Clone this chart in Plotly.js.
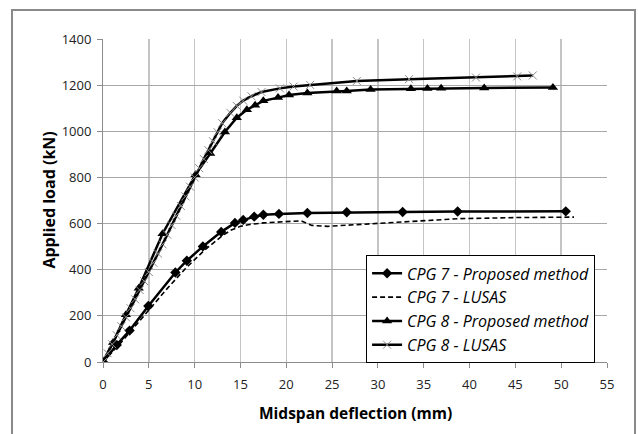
<!DOCTYPE html>
<html>
<head>
<meta charset="utf-8">
<script src="https://cdn.plot.ly/plotly-3.0.1.min.js"></script>
<style>
  html, body { margin: 0; padding: 0; background: #fff; }
  #wrap { position: relative; width: 638px; height: 434px; }
  #chart { width: 638px; height: 434px; }
  #frame { position: absolute; left: 11px; top: 9px; width: 621px; height: 430px;
           border-left: 2px solid #8a8a8a; border-top: 2px solid #8a8a8a; border-right: 2px solid #8a8a8a;
           pointer-events: none; }
</style>
</head>
<body>
<div id="wrap"><div id="chart"></div><div id="frame"></div></div>
<script>
// CPG 7 - Proposed method
const cpg7PropX = [0, 1.5, 2.9, 4.95, 7.9, 9.15, 10.9, 12.9, 14.4, 15.3, 16.5, 17.5, 19.2, 22.3, 26.6, 32.7, 38.7, 50.5];
const cpg7PropY = [0, 74, 136, 243, 388, 439, 501, 564, 603, 616, 630, 638, 642, 646, 649, 650, 652, 653];
// CPG 7 - LUSAS
const cpg7LusX = [0, 1, 2, 3, 5, 7, 9, 11, 13, 14, 15, 16, 17.5, 19, 20.5, 21.6, 22.2, 22.8, 24.5, 28, 32.5, 38.7, 45, 51.4];
const cpg7LusY = [0, 42, 86, 132, 225, 318, 405, 482, 547, 572, 588, 596, 603, 607, 610, 612, 602, 592, 588, 596, 607, 621, 626, 628];
// CPG 8 - Proposed method
const cpg8PropX = [0, 1.1, 2.5, 3.9, 6.5, 10.1, 11.7, 13.3, 14.6, 15.7, 16.6, 17.5, 19.1, 20.3, 22.3, 25.5, 26.6, 29.2, 33.6, 35.4, 36.9, 41.6, 49.1];
const cpg8PropY = [0, 85, 205, 320, 556, 812, 904, 997, 1059, 1093, 1113, 1132, 1146, 1157, 1166, 1175, 1175, 1181, 1184, 1185, 1186, 1188, 1190];
// CPG 8 - LUSAS
const cpg8LusX = [0, 0.5, 1, 1.5, 2, 2.5, 3, 3.5, 4, 4.5, 5, 5.5, 6, 6.5, 7, 7.5, 8, 8.5, 9, 9.5, 10, 10.5, 11, 11.5, 12, 12.5, 13, 13.9, 14.6, 15.3, 16.2, 17.3, 19.3, 20.8, 22.6, 27.7, 33.4, 40.7, 45.2, 46.9];
const cpg8LusY = [0, 38, 77, 116, 155, 194, 233, 272, 312, 350, 390, 430, 470, 510, 552, 593, 634, 676, 718, 760, 800, 840, 880, 918, 957, 996, 1035, 1080, 1110, 1133, 1152, 1170, 1186, 1194, 1201, 1218, 1226, 1233, 1238, 1242];

const xTicks = [0, 5, 10, 15, 20, 25, 30, 35, 40, 45, 50, 55];
const yTicks = [0, 200, 400, 600, 800, 1000, 1200, 1400];
const names = ['CPG 7 - Proposed method', 'CPG 7 - LUSAS', 'CPG 8 - Proposed method', 'CPG 8 - LUSAS'];
const xTitle = 'Midspan deflection (mm)';
const yTitle = 'Applied load (kN)';

const traces = [
  { x: cpg7PropX, y: cpg7PropY, name: names[0], mode: 'lines+markers', type: 'scatter',
    line: { color: '#000', width: 2.5 }, marker: { symbol: 'diamond', size: 8, color: '#000' } },
  { x: cpg7LusX, y: cpg7LusY, name: names[1], mode: 'lines', type: 'scatter',
    line: { color: '#000', width: 1.6, dash: '5px,3px' } },
  { x: cpg8PropX, y: cpg8PropY, name: names[2], mode: 'lines+markers', type: 'scatter',
    line: { color: '#000', width: 2.5 }, marker: { symbol: 'triangle-up', size: 9, color: '#000' } },
  { x: cpg8LusX, y: cpg8LusY, name: names[3], mode: 'lines+markers', type: 'scatter',
    line: { color: '#000', width: 2.5 }, marker: { symbol: 'x-thin', size: 8, color: '#8c8c8c', line: { width: 1, color: '#8c8c8c' } } }
];

const titleFont = { family: 'Open Sans, sans-serif', size: 15.5, weight: 'bold', color: '#000' };

const layout = {
  width: 638, height: 434,
  margin: { l: 103, r: 31, t: 39, b: 72 },
  paper_bgcolor: '#fff', plot_bgcolor: '#fff',
  font: { family: 'Open Sans, sans-serif', color: '#222', size: 12 },
  showlegend: true,
  legend: {
    x: 0.522, y: 0.33, xanchor: 'left', yanchor: 'top',
    bgcolor: '#fff', bordercolor: '#000', borderwidth: 1,
    tracegroupgap: 0, itemwidth: 30,
    font: { family: 'Open Sans, sans-serif', size: 16, color: '#000', style: 'italic' }
  },
  xaxis: {
    range: [0, 55], tickvals: xTicks, ticktext: xTicks.map(String),
    showgrid: true, gridcolor: '#c4c4c4', gridwidth: 1.5,
    showline: true, linecolor: '#8c8c8c', linewidth: 1,
    ticks: 'outside', ticklen: 5, tickcolor: '#8c8c8c',
    ticklabelstandoff: 5,
    zeroline: false, fixedrange: true,
    tickfont: { size: 13, color: '#222' }
  },
  yaxis: {
    range: [0, 1400], tickvals: yTicks, ticktext: yTicks.map(String),
    showgrid: true, gridcolor: '#a8a8a8', gridwidth: 1,
    showline: true, linecolor: '#8c8c8c', linewidth: 1,
    ticks: 'outside', ticklen: 5, tickcolor: '#8c8c8c',
    ticklabelstandoff: 3,
    zeroline: false, fixedrange: true,
    tickfont: { size: 13, color: '#222' }
  },
  annotations: [
    { text: xTitle, xref: 'paper', yref: 'paper', x: 0.5, y: -0.157, xanchor: 'center', yanchor: 'middle',
      showarrow: false, font: titleFont },
    { text: yTitle, xref: 'paper', yref: 'paper', x: -0.109, y: 0.5, xanchor: 'center', yanchor: 'middle',
      textangle: -90, showarrow: false, font: Object.assign({}, titleFont, { size: 16 }) }
  ]
};

Plotly.newPlot('chart', traces, layout, { displayModeBar: false, staticPlot: true });
</script>
</body>
</html>
